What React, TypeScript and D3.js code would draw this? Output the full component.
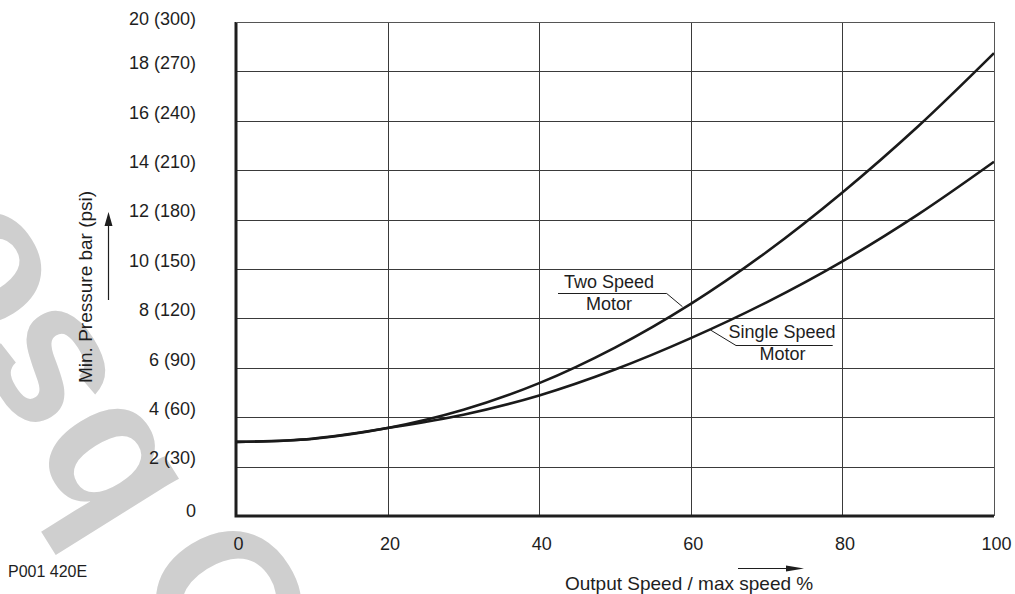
import * as d3 from 'd3';
import { useRef, useEffect } from 'react';

// chart data
const speeds = [0, 10, 20, 30, 40, 50, 60, 70, 80, 90, 100];
const twoSpeed = [3.0, 3.12, 3.56, 4.3, 5.38, 6.82, 8.59, 10.69, 13.1, 15.78, 18.74];
const singleSpeed = [3.0, 3.13, 3.56, 4.1, 4.88, 5.93, 7.2, 8.65, 10.31, 12.21, 14.34];

const xTicks = [0, 20, 40, 60, 80, 100];
const yTicks = [0, 2, 4, 6, 8, 10, 12, 14, 16, 18, 20];
const yTickLabels = ['0', '2 (30)', '4 (60)', '6 (90)', '8 (120)', '10 (150)', '12 (180)', '14 (210)', '16 (240)', '18 (270)', '20 (300)'];

const xTitle = 'Output Speed / max speed %';
const yTitle = 'Min. Pressure bar (psi)';
const figCode = 'P001 420E';
const watermark = ['O', 'bsolete'];

const FONT = '"Liberation Sans", Arial, Helvetica, sans-serif';

const App = () => {
    const ref: any = useRef();
    const W = 1015, H = 594;
    const margin = { top: 22, right: 21, bottom: 78, left: 236 };

    useEffect(() => {
        const svg = d3.select(ref.current);
        svg.selectAll('*').remove();

        const x = d3.scaleLinear().domain([0, 100]).range([margin.left, W - margin.right]);
        const y = d3.scaleLinear().domain([0, 20]).range([H - margin.bottom, margin.top]);

        // grey watermark, runs up to the left
        const wm = svg.append('g')
            .attr('fill', '#cfcfcf')
            .style('font-family', FONT)
            .style('font-weight', 'bold')
            .style('font-size', '200px');
        wm.append('text')
            .attr('transform', 'translate(287,566) rotate(-122)')
            .attr('text-anchor', 'middle')
            .text(watermark[0]);
        wm.append('text')
            .attr('transform', 'translate(186,490) rotate(-122)')
            .text(watermark[1]);

        // grid
        const grid = svg.append('g').attr('stroke', '#3a3a3a').attr('stroke-width', 1);
        grid.selectAll('line.h')
            .data(yTicks.filter(d => d > 0))
            .enter().append('line')
            .attr('x1', x(0)).attr('x2', x(100))
            .attr('y1', d => Math.round(y(d)) + 0.5).attr('y2', d => Math.round(y(d)) + 0.5);
        grid.selectAll('line.v')
            .data(xTicks.filter(d => d > 0))
            .enter().append('line')
            .attr('y1', y(0)).attr('y2', y(20))
            .attr('x1', d => Math.round(x(d)) + 0.5).attr('x2', d => Math.round(x(d)) + 0.5);

        // heavy left / bottom axis
        svg.append('path')
            .attr('d', `M${x(0)},${y(20)}V${y(0)}H${x(100)}`)
            .attr('fill', 'none')
            .attr('stroke', '#1e1e1e')
            .attr('stroke-width', 3);

        // curves
        const line = d3.line<number>()
            .x((d, i) => x(speeds[i]))
            .y(d => y(d))
            .curve(d3.curveCatmullRom.alpha(0.5));
        [twoSpeed, singleSpeed].forEach(s => {
            svg.append('path')
                .attr('d', line(s))
                .attr('fill', 'none')
                .attr('stroke', '#1a1a1a')
                .attr('stroke-width', 2.6);
        });

        const txt = svg.append('g')
            .attr('fill', '#1e1e1e')
            .style('font-family', FONT)
            .style('font-size', '18px');

        // y tick labels (end ones sit a little lower in the original)
        txt.selectAll('text.yt')
            .data(yTicks)
            .enter().append('text')
            .attr('x', 196)
            .attr('y', d => y(d) - (d === 20 ? 3 : d === 0 ? 5 : 8.5))
            .attr('dy', '0.35em')
            .attr('text-anchor', 'end')
            .text((d, i) => yTickLabels[i]);

        // x tick labels
        txt.selectAll('text.xt')
            .data(xTicks)
            .enter().append('text')
            .attr('x', d => x(d) + 2.5)
            .attr('y', 550)
            .attr('text-anchor', 'middle')
            .text(d => d);

        // axis titles
        txt.append('text')
            .attr('transform', 'translate(91.5,383) rotate(-90)')
            .style('font-size', '19px')
            .text(yTitle);
        txt.append('text')
            .attr('x', 565).attr('y', 590)
            .style('font-size', '19px')
            .text(xTitle);
        txt.append('text')
            .attr('x', 8).attr('y', 577)
            .style('font-size', '16px')
            .text(figCode);

        // axis arrows
        const arr = svg.append('g').attr('stroke', '#1e1e1e').attr('fill', '#1e1e1e');
        arr.append('line').attr('x1', 108.5).attr('x2', 108.5).attr('y1', 300).attr('y2', 222).attr('stroke-width', 1.2);
        arr.append('path').attr('d', 'M108.5,212 L104.5,226 L112.5,226 Z').attr('stroke', 'none');
        arr.append('line').attr('x1', 738).attr('x2', 790).attr('y1', 568.5).attr('y2', 568.5).attr('stroke-width', 1.2);
        arr.append('path').attr('d', 'M804,568.5 L786,565.5 L786,571.5 Z').attr('stroke', 'none');

        // annotation leaders
        const ann = svg.append('g').attr('stroke', '#1e1e1e').attr('stroke-width', 1).attr('fill', 'none');
        ann.append('path').attr('d', `M558,293.5 H666.7 L${x(58.9)},306.7`);
        ann.append('path').attr('d', `M832.7,345.5 H736 L${x(62.6)},330`);

        txt.append('text').attr('x', 609).attr('y', 288.3).attr('text-anchor', 'middle').text('Two Speed');
        txt.append('text').attr('x', 609).attr('y', 310).attr('text-anchor', 'middle').text('Motor');
        txt.append('text').attr('x', 782).attr('y', 338.3).attr('text-anchor', 'middle').text('Single Speed');
        txt.append('text').attr('x', 782.5).attr('y', 360).attr('text-anchor', 'middle').text('Motor');

        // thin top / right border
        svg.append('path')
            .attr('d', `M${x(0)},${Math.round(y(20)) + 0.5}H${Math.round(x(100)) + 0.5}V${y(0)}`)
            .attr('fill', 'none')
            .attr('stroke', '#555')
            .attr('stroke-width', 1);
    }, []);

    return (
        <svg ref={ref} width={W} height={H}
            style={{ position: 'absolute', left: 0, top: 0, background: '#fff' }}>
        </svg>
    );
};

export default App;
